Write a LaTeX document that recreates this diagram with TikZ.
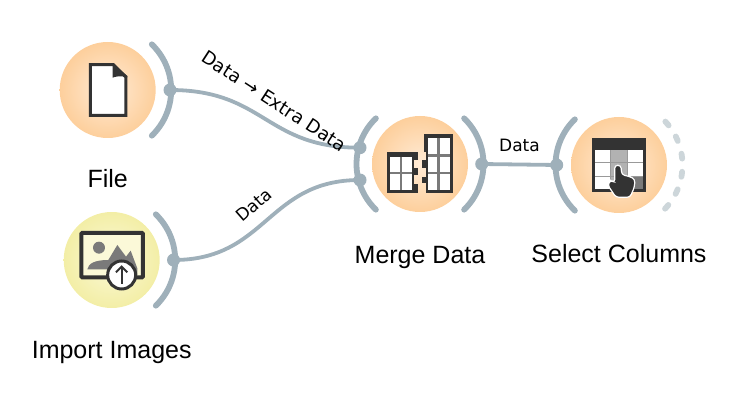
\documentclass[tikz,border=0pt]{standalone}
\usepackage{fontspec}
\setmainfont{Liberation Sans}
\newfontfamily\linkfont{DejaVu Sans}
\usetikzlibrary{positioning}
\definecolor{channel}{HTML}{9FB0BA}
\definecolor{channellight}{HTML}{CDD6DA}
\definecolor{peachin}{HTML}{FFEBD6}
\definecolor{peachout}{HTML}{FDCF9C}
\definecolor{lemonin}{HTML}{FBF9D8}
\definecolor{lemonout}{HTML}{F3EEA6}
\definecolor{icondark}{HTML}{333333}
\definecolor{icongrey}{HTML}{7A7A7A}
\tikzset{
  widgetdata/.style={circle, minimum size=96pt, inner sep=0pt, inner color=peachin, outer color=peachout},
  widgetimage/.style={circle, minimum size=96pt, inner sep=0pt, inner color=lemonin, outer color=lemonout},
  caption/.style={font=\fontsize{25}{29}\selectfont, text=black, inner sep=0pt},
  linklabel/.style={font=\linkfont\fontsize{17}{20}\selectfont, text=black, inner sep=0pt},
  channelarc/.style={draw=channel, line width=5.8pt, line cap=round},
  link/.style={draw=channel, line width=3.8pt},
  port/.style={fill=channel, circle, minimum size=13pt, inner sep=0pt},
  icon/.style={x=.3333pt, y=-.3333pt}
}
\begin{document}
\begin{tikzpicture}[x=1pt, y=-1pt, node distance=89pt]
\useasboundingbox (0,0) rectangle (736,406);

\node (file) [widgetdata] at (107.7,90) {};
\node (images) [widgetimage] at (111.7,260) {};
\node (merge) [widgetdata] at (420,164) {};
\node (select) [widgetdata] at (619,165) {};

\node (filename) [caption, below of=file] {File};
\node (imagesname) [caption, below of=images, yshift=-3pt] {Import Images};
\node (mergename) [caption, below of=merge, yshift=-4pt] {Merge Data};
\node (selectname) [caption, below of=select] {Select Columns};

% channel arcs
\draw [channelarc] ([shift={(-46:63.5pt)}]file.center) arc (-46:46:63.5pt);
\draw [channelarc] ([shift={(-46:63.5pt)}]images.center) arc (-46:46:63.5pt);
\draw [channelarc] ([shift={(134:63.5pt)}]merge.center) arc (134:226:63.5pt);
\draw [channelarc] ([shift={(-46:63.5pt)}]merge.center) arc (-46:46:63.5pt);
\draw [channelarc] ([shift={(134:63.5pt)}]select.center) arc (134:226:63.5pt);
\draw [channelarc, draw=channellight, dash pattern=on 5pt off 13.2pt] ([shift={(-43.5:63.5pt)}]select.center) arc (-43.5:46:63.5pt);

\node (fileout) [port] at (170,90) {};
\node (imagesout) [port] at (173.5,260) {};
\node (mergeextra) [port] at (360,147.7) {};
\node (mergedata) [port] at (360,180) {};
\node (mergeout) [port] at (481.7,164) {};
\node (selectin) [port] at (556.7,165) {};

\draw [link] (fileout.center) .. controls (265,90) and (265,147.7) .. (mergeextra.center);
\draw [link] (imagesout.center) .. controls (267,260) and (267,180) .. (mergedata.center);
\draw [link] (mergeout.center) .. controls (519,164) and (519,165) .. (selectin.center);

\node (labelextra) [linklabel, rotate=-33, font=\linkfont\fontsize{18.2}{20}\selectfont] at (274,101) {Data → Extra Data};
\node (labeldata) [linklabel, rotate=41] at (254,205) {Data};
\node (labelmerge) [linklabel] at (519.5,145) {Data};

% file icon
\begin{scope}[shift={(40,30)}, icon]
\draw [draw=icondark, fill=white, line width=3pt] (151,104) -- (220,104) -- (258,142) -- (258,256) -- (151,256) -- cycle;
\fill [icondark] (218,100) -- (262,138) -- (262,142) .. controls (240,136) and (225,140) .. (218,143) -- cycle;
\end{scope}

% import images icon
\begin{scope}[shift={(40,200)}, icon]
\draw [draw=icondark, fill=lemonin, line width=4pt, rounded corners=1pt] (124,99) rectangle (309,232);
\fill [icongrey] (177,143) circle [radius=6pt];
\fill [icongrey] (142,208) .. controls (145,190) and (165,180) .. (205,180) -- (232,135) -- (258,170) -- (272,152) -- (292,205) -- (292,225) -- (200,208) -- cycle;
\draw [draw=icondark, fill=white, line width=3pt] (245,225) circle [radius=14pt];
\draw [icondark, line width=2pt] (245,252) -- (245,200);
\draw [icondark, line width=2pt] (228,217) -- (245,200) -- (262,217);
\end{scope}

% merge icon
\begin{scope}[shift={(340,100)}, icon]
\fill [icondark] (140,157) rectangle (223,280);
\fill [icondark] (223,157) rectangle (233,180);
\fill [icondark] (223,203) rectangle (233,225);
\fill [icondark] (223,253) rectangle (233,280);
\fill [icongrey] (150,170) rectangle (217,270);
\fill [white] (150,170) rectangle (180,215);
\fill [white] (186,170) rectangle (217,215);
\fill [white] (150,221) rectangle (180,270);
\fill [white] (186,221) rectangle (217,270);
\fill [icondark] (258,103) rectangle (340,280);
\fill [icondark] (253,103) rectangle (258,155);
\fill [icondark] (247,180) rectangle (258,203);
\fill [icondark] (247,230) rectangle (258,250);
\fill [icongrey] (263,115) rectangle (330,270);
\fill [white] (263,115) rectangle (292,162);
\fill [white] (300,115) rectangle (330,162);
\fill [white] (263,170) rectangle (292,215);
\fill [white] (300,170) rectangle (330,215);
\fill [white] (263,221) rectangle (292,270);
\fill [white] (300,221) rectangle (330,270);
\end{scope}

% select columns icon
\begin{scope}[shift={(540,100)}, icon]
\fill [icondark] (156,114) rectangle (319,276);
\fill [black!40] (165,150) rectangle (309,267);
\fill [white] (165,150) rectangle (211,187);
\fill [white] (165,190) rectangle (211,227);
\fill [white] (165,230) rectangle (211,267);
\fill [white] (263,150) rectangle (309,187);
\fill [white] (263,190) rectangle (309,227);
\fill [icongrey] (263,230) rectangle (309,267);
\fill [black!30] (213,150) rectangle (261,187);
\fill [black!30] (213,190) rectangle (261,227);
\fill [black!30] (213,230) rectangle (261,267);
\draw [draw=white, fill=icondark, line width=1.2pt, rounded corners=3pt] (224,196) -- (243,196) -- (245,224) -- (270,230) -- (285,238) -- (283,262) -- (270,292) -- (228,292) -- (203,255) -- (212,240) -- (224,248) -- cycle;
\end{scope}

\end{tikzpicture}
\end{document}
